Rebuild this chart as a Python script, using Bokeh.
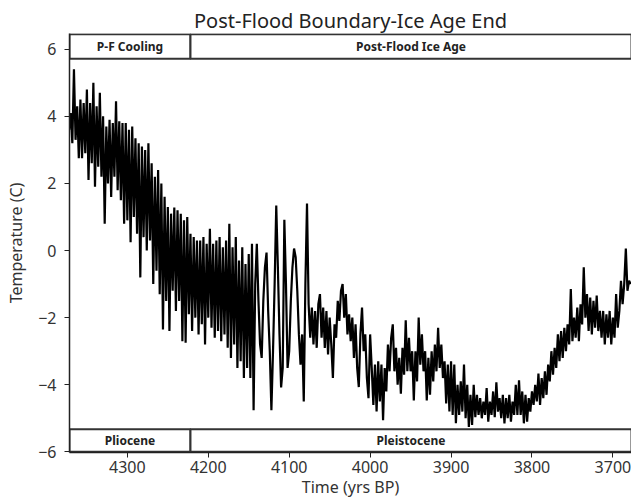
import numpy as np
from bokeh.plotting import figure
from bokeh.models import FixedTicker, Range1d, ColumnDataSource, LabelSet
from bokeh.core.properties import value
from bokeh.embed import file_html
from bokeh.resources import INLINE

# Temperature (C), one reading every 2 years starting at 4372 yrs BP
temperature = [
    3.6, 4.1, 3.2, 5.4, 3.3, 4.3, 2.75, 4.5, 2.75, 4.4,
    2.9, 4.8, 2.1, 4.4, 2.6, 5.0, 1.9, 4.3, 2.5, 4.7,
    2.2, 4.0, 0.8, 3.7, 2.0, 3.9, 1.6, 3.8, 2.2, 4.45,
    1.8, 3.85, 1.5, 3.8, 0.8, 3.8, 0.9, 3.6, 0.25, 3.7,
    1.0, 3.35, 0.5, 3.2, -0.8, 3.1, 0.4, 3.0, 0.0, 3.2,
    0.3, 2.6, -1.0, 2.2, -0.6, 2.4, -1.3, 2.0, -2.35, 1.6,
    -1.5, 1.3, -2.4, 1.1, -1.2, 1.28, -1.8, 1.2, -1.5, 1.1,
    -2.7, 0.9, -2.75, 1.0, -1.9, 0.5, -2.4, 0.4, -2.0, 0.3,
    -2.5, 0.3, -2.2, 0.4, -2.8, 0.2, -2.0, 0.65, -2.3, 0.2,
    -2.6, 0.3, -2.4, 0.4, -2.7, 0.1, -2.5, 0.3, -2.9, 0.8,
    -3.2, 0.1, -2.8, 0.4, -3.5, -0.3, -3.3, 0.1, -3.8, -0.4,
    -3.5, -0.1, -3.8, 0.2, -4.76, -1.0, 0.2, -1.5, -2.8, -3.2,
    -1.5, -0.5, -0.06, -1.8, -3.0, -4.76, -3.0, -1.0, 1.34, -0.5,
    -2.5, -4.08, -3.5, 0.92, -1.0, -3.5, -3.0, -1.5, -0.5, 0.06,
    -0.2, -1.2, -2.5, -3.4, -2.5, -4.5, -1.0, 1.4, -1.6, -2.6,
    -1.7, -2.8, -1.8, -2.9, -1.6, -1.3, -2.6, -1.7, -2.9, -1.8,
    -3.1, -2.0, -2.8, -3.8, -2.2, -2.6, -1.5, -2.1, -1.2, -1.0,
    -2.0, -1.3, -2.5, -1.9, -2.7, -2.0, -3.2, -2.2, -3.5, -4.07,
    -2.5, -1.7, -3.0, -2.5, -3.8, -4.4, -2.5, -3.5, -4.6, -3.4,
    -4.8, -3.3, -4.5, -3.4, -5.06, -3.5, -4.2, -2.8, -3.6, -2.6,
    -2.2, -3.6, -2.9, -4.0, -3.2, -4.27, -2.9, -3.7, -2.08, -3.6,
    -2.6, -3.6, -3.0, -4.47, -3.0, -3.9, -2.0, -3.4, -2.5, -3.6,
    -3.0, -4.47, -3.2, -4.3, -3.0, -3.9, -2.8, -3.6, -2.3, -3.5,
    -2.8, -3.8, -3.3, -4.56, -3.4, -4.8, -3.3, -4.9, -3.4, -5.15,
    -4.0, -4.9, -3.9, -4.8, -3.4, -5.0, -4.0, -5.26, -4.3, -5.2,
    -4.0, -4.97, -4.3, -4.9, -4.4, -5.0, -4.5, -4.9, -4.1, -5.1,
    -4.5, -4.9, -4.2, -4.97, -3.93, -4.8, -4.4, -5.0, -4.3, -5.15,
    -4.4, -5.0, -4.3, -5.1, -4.5, -4.9, -4.0, -4.9, -3.87, -4.9,
    -4.2, -5.15, -4.3, -5.1, -4.4, -4.8, -4.2, -4.6, -4.0, -4.5,
    -3.67, -4.6, -3.8, -4.4, -3.6, -4.3, -3.4, -3.9, -3.0, -3.7,
    -2.9, -3.5, -2.5, -3.3, -2.4, -3.2, -2.3, -3.0, -2.2, -2.8,
    -1.15, -2.7, -2.0, -2.6, -1.7, -2.7, -1.6, -2.2, -0.5, -2.0,
    -1.3, -2.4, -1.4, -2.5, -1.5, -2.3, -1.34, -2.4, -1.8, -2.6,
    -1.8, -2.8, -1.9, -2.6, -1.8, -2.8, -2.0, -2.6, -1.3, -2.3,
    -1.8, -0.9, -1.6, -1.0, 0.06, -1.2, -0.9, -1.0,
]
start_year = 4372
step_years = 2
years = start_year - step_years * np.arange(len(temperature))

upper_names = ["P-F Cooling", "Post-Flood Ice Age"]
lower_names = ["Pliocene", "Pleistocene"]
period_start = [4371.5, 4222]
period_end = [4222, 3677]

x_ticks = [4300, 4200, 4100, 4000, 3900, 3800, 3700]
y_ticks = [-6, -4, -2, 0, 2, 4, 6]

FONT = "Noto Sans"
X0, X1 = 4371.5, 3677
Y0, Y1 = -6.02, 6.47

p = figure(width=631, height=501, x_range=Range1d(X0, X1), y_range=Range1d(Y0, Y1),
           output_backend="svg", toolbar_location=None,
           title="Post-Flood Boundary-Ice Age End",
           x_axis_label="Time (yrs BP)", y_axis_label="Temperature (C)",
           min_border_left=69, min_border_right=0, min_border_top=33, min_border_bottom=49)

p.title.align = "center"
p.title.text_font = FONT
p.title.text_font_size = "20px"
p.title.text_font_style = "normal"
p.title.text_color = "#222222"
p.title.standoff = 0

p.grid.visible = False
p.outline_line_color = None
p.background_fill_color = "white"

for ax in (p.xaxis[0], p.yaxis[0]):
    ax.minor_tick_line_color = None
    ax.major_tick_in = 0
    ax.major_tick_out = 5
    ax.axis_line_width = 1.5
    ax.axis_line_color = "#222222"
    ax.major_tick_line_color = "#222222"
    ax.major_label_text_font = FONT
    ax.major_label_text_font_size = "16px"
    ax.major_label_text_color = "#333333"
    ax.axis_label_text_font = FONT
    ax.axis_label_text_font_size = "16px"
    ax.axis_label_text_font_style = "normal"
    ax.axis_label_text_color = "#333333"

p.xaxis.ticker = FixedTicker(ticks=x_ticks)
p.yaxis.ticker = FixedTicker(ticks=y_ticks)
p.yaxis.major_label_overrides = {t: (("\u2212" + str(-t)) if t < 0 else str(t)) for t in y_ticks}
p.xaxis.major_label_standoff = 3
p.xaxis.axis_label_standoff = 0
p.yaxis.major_label_standoff = 8
p.yaxis.axis_label_standoff = 8

p.line(years, temperature, line_color="black", line_width=2.2)

centers = [(s + e) / 2 for s, e in zip(period_start, period_end)]

p.quad(left=period_start, right=period_end, bottom=5.72, top=6.45,
       fill_color="white", line_color="#333333", line_width=2)
p.quad(left=period_start, right=period_end, bottom=-6.0, top=-5.33,
       fill_color="white", line_color="#333333", line_width=2)

up_src = ColumnDataSource(dict(x=centers, y=[6.085] * len(centers), t=upper_names))
lo_src = ColumnDataSource(dict(x=centers, y=[-5.665] * len(centers), t=lower_names))
for src in (up_src, lo_src):
    p.add_layout(LabelSet(x="x", y="y", text="t", source=src, text_align="center",
                          text_baseline="middle", text_font=value(FONT),
                          text_font_size=value("12px"),
                          text_font_style=value("bold"), text_color=value("#222222")))

open("out.html", "w").write(file_html(p, INLINE))
